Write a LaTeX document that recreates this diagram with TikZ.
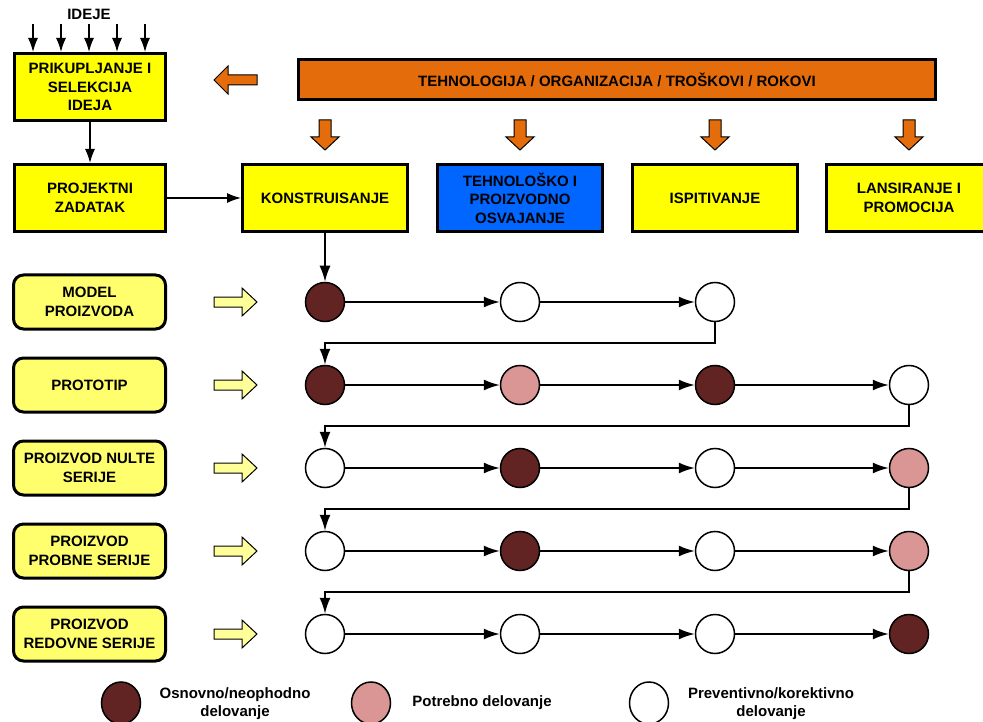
\documentclass[tikz,border=0pt]{standalone}
\usepackage{fontspec}
\setmainfont{Liberation Sans}
\usetikzlibrary{arrows.meta,shapes.geometric}
\definecolor{dk}{HTML}{622423}
\definecolor{pk}{HTML}{D99694}
\definecolor{yel}{HTML}{FFFF00}
\definecolor{lyel}{HTML}{FFFF6E}
\definecolor{ayel}{HTML}{FFFF99}
\definecolor{orng}{HTML}{E46C0A}
\definecolor{blu}{HTML}{0066FF}
\begin{document}
\begin{tikzpicture}[x=1pt,y=-1pt,
  font=\bfseries\fontsize{15}{18.5}\selectfont,
  box/.style={draw, line width=3pt, fill=yel, align=center, inner sep=0pt},
  sidebox/.style={box, minimum width=151pt, minimum height=67pt},
  topbox/.style={box, minimum width=165pt, minimum height=67pt},
  rbox/.style={draw, line width=3pt, fill=lyel, rounded corners=10pt, align=center, inner sep=0pt, minimum width=152pt, minimum height=54pt},
  circ/.style={circle, draw, line width=1.5pt, minimum size=39pt, inner sep=0pt},
  wh/.style={circ, fill=white},
  dd/.style={circ, fill=dk},
  pp/.style={circ, fill=pk},
  leg/.style={ellipse, draw, line width=1.5pt, minimum width=39pt, minimum height=42pt, inner sep=0pt},
  conn/.style={line width=1.7pt, -{Latex[length=16pt,width=11pt]}},
  sconn/.style={line width=1.4pt, -{Latex[length=14pt,width=10pt]}},
  oarrow/.style={draw=black, line width=1pt, fill=orng},
  yarrow/.style={draw=black, line width=1pt, fill=ayel},
  legtxt/.style={align=center, font=\bfseries\fontsize{15}{18}\selectfont}
]
\useasboundingbox (0,0) rectangle (983,722);

% IDEJE
\node (ideje) at (89,14) {IDEJE};
\node[sidebox] (prik) at (90,87) {PRIKUPLJANJE I\\SELEKCIJA\\IDEJA};
\foreach \i/\xx in {1/33,2/61,3/89,4/117,5/145} {
  \coordinate (id\i) at (\xx,24);
  \draw[sconn] (id\i) -- (id\i |- prik.north);
}
\node[sidebox] (proj) at (90,198) {PROJEKTNI\\ZADATAK};
\draw[sconn] (prik) -- (proj);

% orange bar
\node[draw, line width=3pt, fill=orng, minimum width=637pt, minimum height=40pt, inner sep=0pt] (tech) at (617,80) {TEHNOLOGIJA / ORGANIZACIJA / TROŠKOVI / ROKOVI};
\draw[oarrow] (257,75) -- (228,75) -- (228,66) -- (214,80) -- (228,94) -- (228,85) -- (257,85) -- cycle;

% top row
\node[topbox] (kon) at (325,198) {KONSTRUISANJE};
\node[topbox, fill=blu] (teh) at (520,198) {TEHNOLOŠKO I\\PROIZVODNO\\OSVAJANJE};
\node[topbox] (isp) at (715,198) {ISPITIVANJE};
\node[topbox] (lan) at (909,198) {LANSIRANJE I\\PROMOCIJA};
\draw[sconn] (proj) -- (kon);
\foreach \xx in {325,520,715,909} {
  \draw[oarrow] (\xx-6,120) -- (\xx+6,120) -- (\xx+6,137) -- (\xx+14,137) -- (\xx,150) -- (\xx-14,137) -- (\xx-6,137) -- cycle;
}

% left rounded boxes and yellow arrows
\node[rbox] (r1) at (89.5,302) {MODEL\\PROIZVODA};
\node[rbox] (r2) at (89.5,385) {PROTOTIP};
\node[rbox] (r3) at (89.5,468) {PROIZVOD NULTE\\SERIJE};
\node[rbox] (r4) at (89.5,551) {PROIZVOD\\PROBNE SERIJE};
\node[rbox] (r5) at (89.5,634) {PROIZVOD\\REDOVNE SERIJE};
\foreach \yy in {302,385,468,551,634} {
  \draw[yarrow] (214,\yy-5) -- (242,\yy-5) -- (242,\yy-14) -- (257,\yy) -- (242,\yy+14) -- (242,\yy+5) -- (214,\yy+5) -- cycle;
}

% circles
\node[dd] (c11) at (325,302) {};
\node[wh] (c12) at (520,302) {};
\node[wh] (c13) at (715,302) {};

\node[dd] (c21) at (325,385) {};
\node[pp] (c22) at (520,385) {};
\node[dd] (c23) at (715,385) {};
\node[wh] (c24) at (909,385) {};

\node[wh] (c31) at (325,468) {};
\node[dd] (c32) at (520,468) {};
\node[wh] (c33) at (715,468) {};
\node[pp] (c34) at (909,468) {};

\node[wh] (c41) at (325,551) {};
\node[dd] (c42) at (520,551) {};
\node[wh] (c43) at (715,551) {};
\node[pp] (c44) at (909,551) {};

\node[wh] (c51) at (325,634) {};
\node[wh] (c52) at (520,634) {};
\node[wh] (c53) at (715,634) {};
\node[dd] (c54) at (909,634) {};

\draw[conn] (kon) -- (c11);
\draw[conn] (c11) -- (c12);
\draw[conn] (c12) -- (c13);
\draw[conn] (c13.south) -- ++(0,21) -| (c21.north);
\draw[conn] (c21) -- (c22);
\draw[conn] (c22) -- (c23);
\draw[conn] (c23) -- (c24);
\draw[conn] (c24.south) -- ++(0,21) -| (c31.north);
\draw[conn] (c31) -- (c32);
\draw[conn] (c32) -- (c33);
\draw[conn] (c33) -- (c34);
\draw[conn] (c34.south) -- ++(0,21) -| (c41.north);
\draw[conn] (c41) -- (c42);
\draw[conn] (c42) -- (c43);
\draw[conn] (c43) -- (c44);
\draw[conn] (c44.south) -- ++(0,21) -| (c51.north);
\draw[conn] (c51) -- (c52);
\draw[conn] (c52) -- (c53);
\draw[conn] (c53) -- (c54);

% legend
\node[leg, fill=dk] (l1) at (121,703) {};
\node[legtxt] (t1) at (235,704) {Osnovno/neophodno\\delovanje};
\node[leg, fill=pk] (l2) at (371,703) {};
\node[legtxt] (t2) at (482,703) {Potrebno delovanje};
\node[leg, fill=white] (l3) at (649,703) {};
\node[legtxt] (t3) at (771,704) {Preventivno/korektivno\\delovanje};
\end{tikzpicture}
\end{document}
